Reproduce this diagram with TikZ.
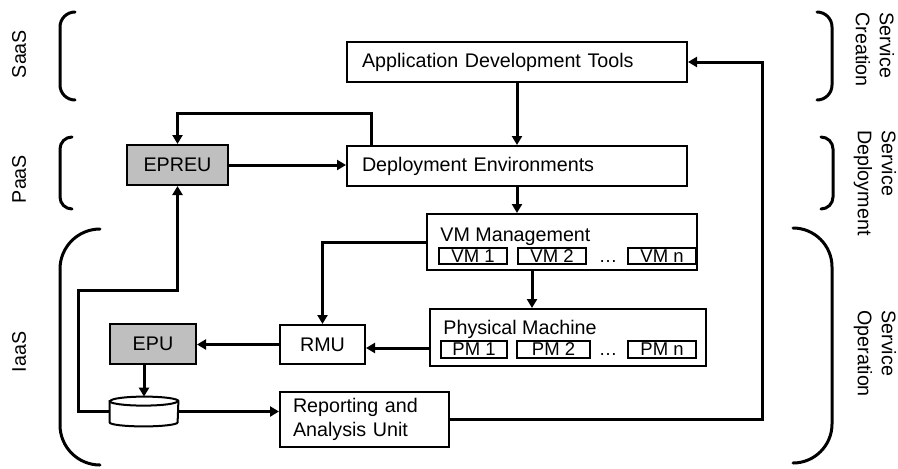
\documentclass[tikz,border=0pt]{standalone}
\usepackage{fontspec}
\setmainfont{Liberation Sans}
\usetikzlibrary{arrows.meta,positioning}
\newcommand{\dfont}{\fontsize{9.85}{12}\selectfont}
\newcommand{\sfont}{\fontsize{9.25}{10}\selectfont}

\begin{document}
\begin{tikzpicture}[
      x = 0.5pt, y = 0.5pt,
      every node/.style = {font=\dfont, inner sep=0pt},
      box/.style   = {draw, line width=1pt, fill=white},
      wide/.style  = {box, minimum width=170pt, minimum height=20pt,
                      text width=155pt, align=left},
      unit/.style  = {box, fill=black!25, minimum height=20pt},
      sub/.style   = {draw, line width=0.65pt, font=\sfont, minimum height=8pt},
      arrow/.style = {-{Triangle[length=4.5pt,width=5pt]}, line width=1.5pt},
      brace/.style = {line width=1.5pt, line cap=round}
    ]
    \useasboundingbox (0,0) rectangle (898,468);

    % layer boxes
    \node[wide] (adt) at (517,406) {Application Development Tools};
    \node[wide] (dep) at (517,302) {Deployment Environments};
    \node[unit, minimum width=50.5pt] (epreu) at (177.5,303) {EPREU};

    \node[box, minimum width=135pt, minimum height=28pt] (vmm) at (562,226) {};
    \node[anchor=base west] (vmmt) at (440,227) {VM Management};
    \node[sub, minimum width=34pt] (vm1) at (473,212) {VM 1};
    \node[sub, minimum width=34pt] (vm2) at (552,212) {VM 2};
    \node[anchor=base, font=\sfont] (vmd) at (608,206) {\dots};
    \node[sub, minimum width=34pt] (vmn) at (662,212) {VM n};

    \node[box, minimum width=138pt, minimum height=28.5pt] (pm) at (568,130.5) {};
    \node[anchor=base west] (pmt) at (443,134) {Physical Machine};
    \node[sub, minimum width=33pt, minimum height=8.5pt] (pm1) at (474,118.5) {PM 1};
    \node[sub, minimum width=36.5pt, minimum height=8.5pt] (pm2) at (553.5,118.5) {PM 2};
    \node[anchor=base, font=\sfont] (pmd) at (608,112.5) {\dots};
    \node[sub, minimum width=34pt, minimum height=8.5pt] (pmn) at (662,118.5) {PM n};

    \node[box, minimum width=42.5pt, minimum height=19.5pt] (rmu) at (322.5,123.5) {RMU};
    \node[unit, minimum width=43pt] (epu) at (153,124) {EPU};
    \node[minimum width=34pt, minimum height=14.5pt] (db) at (144,56.5) {};
    \node[box, minimum width=84.5pt, minimum height=27.5pt, text width=71.5pt,
          align=left] (rau) at (364.5,48.5) {Reporting and\\Analysis Unit};

    % database
    \draw[line width=1pt, fill=white]
      ([yshift=-2.25pt]db.north west) -- ([yshift=2pt]db.south west)
      arc[start angle=180, end angle=360, x radius=17pt, y radius=2pt]
      -- ([yshift=-2.25pt]db.north east)
      arc[start angle=0, end angle=180, x radius=17pt, y radius=2.25pt] -- cycle;
    \draw[line width=1pt] ([yshift=-2.25pt]db.north west)
      arc[start angle=180, end angle=360, x radius=17pt, y radius=2.25pt];

    % connectors
    \coordinate (vmo) at ([xshift=-15pt]vmm.south);
    \coordinate (fb)  at (78,178);
    \draw[arrow] (adt.south) -- (dep.north);
    \draw[arrow] ([xshift=12.5pt]dep.north west) -- ++(0,32) -| (epreu.north);
    \draw[arrow] (epreu.east) -- (epreu.east -| dep.west);
    \draw[arrow] (dep.south) -- (dep.south |- vmm.north);
    \draw[arrow] (vmm.west) -| (rmu.north);
    \draw[arrow] (vmo) -- (vmo |- pm.north);
    \draw[arrow] ([yshift=-1.75pt]rmu.east -| pm.west) -- ([yshift=-1.75pt]rmu.east);
    \draw[arrow] (rmu.west) -- (rmu.west -| epu.east);
    \draw[arrow] (epu.south -| db.north) -- (db.north);
    \draw[arrow] (db.west) -| (fb) -| (epreu.south);
    \draw[arrow] (db.east) -- (db.east -| rau.west);
    \draw[arrow] (rau.east) -| ([xshift=37pt]adt.east) -- (adt.east);

    % braces
    \draw[brace, rounded corners=7.5pt] (75,456) -- (60,456) -- (60,368) -- (75,368);
    \draw[brace, rounded corners=6pt]   (72,331) -- (60,331) -- (60,259) -- (72,259);
    \draw[brace, rounded corners=20pt]  (100,239) -- (60,239) -- (60,3) -- (100,3);
    \draw[brace, rounded corners=7.5pt] (817,456) -- (832,456) -- (832,368) -- (817,368);
    \draw[brace, rounded corners=6pt]   (821,331) -- (833,331) -- (833,259) -- (821,259);
    \draw[brace, rounded corners=19.5pt] (793,240) -- (832,240) -- (832,5) -- (793,5);

    % layer labels
    \node[rotate=90] (saas) at (19,414) {SaaS};
    \node[rotate=90] (paas) at (19,289) {PaaS};
    \node[rotate=90] (iaas) at (19,116) {IaaS};
    \node[rotate=-90, anchor=west, align=left] (scre) at (875,456) {Service\\Creation};
    \node[rotate=-90, anchor=west, align=left] (sdep) at (875,338) {Service\\Deployment};
    \node[rotate=-90, anchor=west, align=left] (sop)  at (875,158) {Service\\Operation};
  \end{tikzpicture}
\end{document}
